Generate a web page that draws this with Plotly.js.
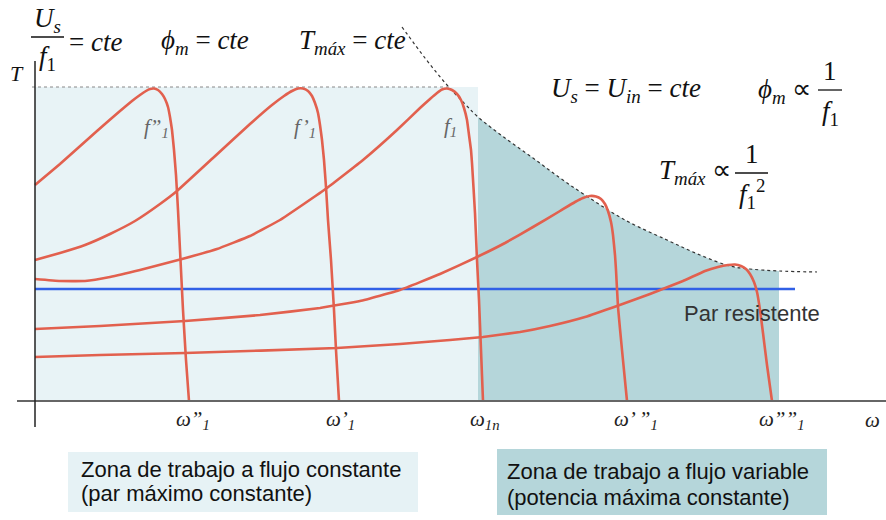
<!DOCTYPE html>
<html>
<head>
<meta charset="utf-8">
<script src="https://cdn.plot.ly/plotly-3.0.1.min.js"></script>
<style>
  body { margin: 0; background: #fff; }
  #chart { width: 886px; height: 520px; }
</style>
</head>
<body>
<div id="chart"></div>
<script>
// torque-speed curves, omega and T in drawing units (origin at the axes cross)
const w_f1b = [0,25,62,85,97,105,111,115,119,123,127,130,133,135,137,139,141,143,145,148,151,154];
const T_f1b = [216,237,270,290,300,306,310,312,312.5,311,307,302,294,284,271,251,226,191,151,91,41,0];

const w_f1a = [0,25,50,75,100,125,142,178,215,237,249,257,263,268,273,277,280,283,285,287,289,291,293,296,299,301,304];
const T_f1a = [141,148,156,167,180,197,210,243,277,296,305,310,312.5,312.5,310,305,298,288,276,261,241,214,181,141,91,51,0];

const w_f1 = [0,25,50,75,105,147,182,215,245,292,328,362,385,395,402,407,412,417,422,426,429,432,434,436,437,440,442,444,446,448];
const T_f1 = [122,120,120,124,131,142,152,165,181,213,241,271,293,302,308,311.5,312.5,311,307,301,293,281,266,251,238,188,141,101,51,0];

const w_f1c = [0,65,150,225,285,325,365,405,442,470,498,525,540,548,555,561,566,570,573,576,578,580,581,583,587,592];
const T_f1c = [72,75,80,86,93,100,111,127,144,158,174,190,199,203,205,204.5,202,197,190,179,166,146,131,94,51,0];

const w_f1d = [0,65,150,302,365,415,448,485,515,550,582,615,648,670,683,693,700,706,711,715,719,722,725,728,732,737];
const T_f1d = [44,46,48,53,57,61,64,69,75,84,95,107,120,130,134,136,136.5,135,132,127,119,109,91,68,36,0];

// envelope of maximum torque (T max ~ 1/f1^2)
const w_env = [367,390,412,430,443,470,498,525,550,590,632,665,695,715,744,782];
const T_env = [374,343,316,297,284,263,243,223,206,181,161,146,135,132,130,129];

const wBase = 443;      // omega_1n
const wEnd = 744;       // end of variable flux zone
const Tmax = 314;
const Tload = 112;

const tickW = [154,304,448,592,737,843];
const tickText = [
  '<i>ω”</i><sub><i>1</i></sub>',
  '<i>ω’</i><sub><i>1</i></sub>',
  '<i>ω</i><sub><i>1n</i></sub>',
  '<i>ω’ ”</i><sub><i>1</i></sub>',
  '<i>ω””</i><sub><i>1</i></sub>',
  '<i>ω</i>'
];

const red = '#e2604e';
const serif = 'Liberation Serif, Times New Roman, serif';
const sans = 'Liberation Sans, Arial, sans-serif';

// teal zone under the envelope
const zoneW = [], zoneT = [];
for (let i = 0; i < w_env.length; i++) {
  if (w_env[i] >= wBase && w_env[i] <= wEnd) { zoneW.push(w_env[i]); zoneT.push(T_env[i]); }
}

const curve = (x, y) => ({x: x, y: y, mode: 'lines', line: {color: red, width: 2.6, shape: 'spline', smoothing: 0.3}, hoverinfo: 'skip'});

const data = [
  {x: zoneW, y: zoneT, mode: 'lines', fill: 'tozeroy', fillcolor: '#b5d6da', line: {width: 0, shape: 'spline'}, hoverinfo: 'skip'},
  {x: [-3, 415], y: [Tmax, Tmax], mode: 'lines', line: {color: '#888', width: 1, dash: 'dot'}, hoverinfo: 'skip'},
  {x: w_env, y: T_env, mode: 'lines', line: {color: '#333', width: 1.2, dash: 'dot', shape: 'spline'}, hoverinfo: 'skip'},
  {x: [0, 760], y: [Tload, Tload], mode: 'lines', line: {color: '#3160e6', width: 2.5}, hoverinfo: 'skip'},
  curve(w_f1b, T_f1b),
  curve(w_f1a, T_f1a),
  curve(w_f1, T_f1),
  curve(w_f1c, T_f1c),
  curve(w_f1d, T_f1d)
];

function note(x, y, text, opts) {
  return Object.assign({x: x, y: y, text: text, showarrow: false, xanchor: 'left', yanchor: 'middle',
    font: {family: serif, size: 27, color: '#111'}}, opts || {});
}

const annotations = [];
tickW.forEach((w, i) => annotations.push(note(w, -19, tickText[i], {xshift: -15, font: {family: serif, size: 21, color: '#222'}})));

const grey = {family: serif, size: 21, color: '#666'};
const box = {family: sans, size: 22, color: '#111'};

annotations.push(
  note(-18, 328, '<i>T</i>', {xanchor: 'center', font: {family: serif, size: 22, color: '#111'}}),
  note(12, 381, '<i>U</i><sub><i>s</i></sub>', {xanchor: 'center'}),
  note(12, 343, '<i>f</i><sub>1</sub>', {xanchor: 'center'}),
  note(32, 359, '= <i>cte</i>'),
  note(124, 359, '<i>ϕ</i><sub><i>m</i></sub> = <i>cte</i>'),
  note(262, 359, '<i>T</i><sub><i>máx</i></sub> = <i>cte</i>'),
  note(514, 311, '<i>U</i><sub><i>s</i></sub> = <i>U</i><sub><i>in</i></sub> = <i>cte</i>'),
  note(721, 310, '<i>ϕ</i><sub><i>m</i></sub> ∝'),
  note(795, 330, '1', {xanchor: 'center'}),
  note(795, 288, '<i>f</i><sub>1</sub>', {xanchor: 'center'}),
  note(622, 229, '<i>T</i><sub><i>máx</i></sub> ∝'),
  note(717, 247, '1', {xanchor: 'center'}),
  note(717, 207, '<i>f</i><sub>1</sub><sup>2</sup>', {xanchor: 'center'}),
  note(107, 273, '<i>f”</i><sub><i>1</i></sub>', {font: grey}),
  note(257, 273, '<i>f’</i><sub><i>1</i></sub>', {font: grey}),
  note(407, 274, '<i>f</i><sub><i>1</i></sub>', {font: grey}),
  note(647, 88, 'Par resistente', {font: {family: sans, size: 22, color: '#333'}}),
  note(44, -68, 'Zona de trabajo a flujo constante', {font: box}),
  note(44, -92, '(par máximo constante)', {font: box}),
  note(470, -70, 'Zona de trabajo a flujo variable', {font: box}),
  note(470, -96, '(potencia máxima constante)', {font: box})
);

const shapes = [
  {type: 'rect', layer: 'below', x0: 0, x1: wBase, y0: 0, y1: Tmax, fillcolor: '#e8f3f6', line: {width: 0}},
  {type: 'rect', layer: 'below', x0: 33, x1: 383, y0: -51, y1: -111, fillcolor: '#e6f2f5', line: {width: 0}},
  {type: 'rect', layer: 'below', x0: 462, x1: 792, y0: -48, y1: -114, fillcolor: '#b5d6da', line: {width: 0}},
  {type: 'line', x0: -18, x1: 851, y0: 0, y1: 0, line: {color: '#666', width: 2}},
  {type: 'line', x0: 0, x1: 0, y0: -26, y1: 340, line: {color: '#222', width: 1.5}},
  {type: 'line', x0: -4, x1: 29, y0: 364, y1: 364, line: {color: '#111', width: 1.3}},
  {type: 'line', x0: 783, x1: 807, y0: 311, y1: 311, line: {color: '#111', width: 1.3}},
  {type: 'line', x0: 700, x1: 733, y0: 228, y1: 228, line: {color: '#111', width: 1.3}}
];

const layout = {
  width: 886, height: 520,
  margin: {l: 0, r: 0, t: 0, b: 0},
  paper_bgcolor: '#fff', plot_bgcolor: '#fff',
  showlegend: false,
  xaxis: {range: [-35, 851], visible: false, fixedrange: true},
  yaxis: {range: [-119, 401], visible: false, fixedrange: true},
  shapes: shapes,
  annotations: annotations
};

Plotly.newPlot('chart', data, layout, {staticPlot: true});
</script>
</body>
</html>
